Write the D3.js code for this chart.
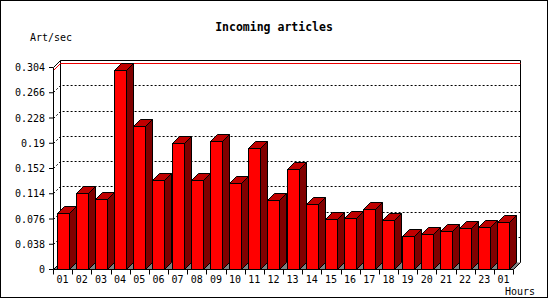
<!DOCTYPE html>
<html><head><meta charset="utf-8">
<script src="https://cdn.jsdelivr.net/npm/d3@7"></script>
<style>
html,body{margin:0;padding:0;background:#fff;}
svg{display:block;}
text{font-family:"DejaVu Sans Mono",monospace;font-size:10px;fill:#000;}
</style></head>
<body>
<svg id="c" width="550" height="300"></svg>
<script>
const hours = ["01","02","03","04","05","06","07","08","09","10","11","12","13","14","15","16","17","18","19","20","21","22","23","01"];
const articles = [0.0846,0.1147,0.1056,0.2998,0.2145,0.1332,0.1889,0.1332,0.1929,0.1287,0.1818,0.1041,0.1508,0.0981,0.0755,0.0771,0.0906,0.0740,0.0500,0.0530,0.0575,0.0620,0.0635,0.0710];
const yTicks = [0,0.038,0.076,0.114,0.152,0.19,0.228,0.266,0.304];
const yLabels = ["0","0.038","0.076","0.114","0.152","0.19","0.228","0.266","0.304"];
const title = "Incoming articles";
const yTitle = "Art/sec";
const xTitle = "Hours";

const svg = d3.select("#c");
const D = 7; // 3D depth
const x = d3.scaleBand().domain(d3.range(hours.length)).range([53,513]);
const y = d3.scaleLinear().domain([0,0.304]).range([269,67]);
const bw = x.bandwidth();
const barW = 12;
const py = v => Math.round(y(v))+0.5;
const y0 = py(0);
const xl = 53.5, xr = 513.5;

// frame
svg.append("rect").attr("x",0.5).attr("y",0.5).attr("width",547).attr("height",297)
  .attr("fill","none").attr("stroke","#000");

// floor
svg.append("polygon").attr("points",[[xl,y0],[xl+D,y0-D],[xr+D,y0-D],[xr,y0]].map(p=>p.join(",")).join(" "))
  .attr("fill","#808080").attr("stroke","none");

// back wall lines
const g = svg.append("g").attr("fill","none").attr("stroke","#000").attr("stroke-width",1);
const yb = v => py(v)-D;
g.append("path").attr("d",`M${xl+D},${y0-D}V${yb(0.304)}H${xr+D}V${y0-D}`);
g.append("path").attr("d",`M${xl},${py(0.304)}L${xl+D},${yb(0.304)}`);
g.append("path").attr("d",`M${xl},${y0}L${xl+D},${y0-D}`);
g.append("path").attr("d",`M${xr},${y0}L${xr+D},${y0-D}`);

// gridlines (dotted)
yTicks.slice(1,-1).forEach(v=>{
  g.append("path").attr("d",`M${xl},${py(v)}L${xl+D},${yb(v)}H${xr+D}`)
   .attr("stroke-dasharray","2,2");
});

// max line (red)
const mx = d3.max(articles);
svg.append("path").attr("d",`M${xl},${py(mx)}L${xl+D},${yb(mx)}H${xr+D}`)
  .attr("fill","none").attr("stroke","#ee0000");

// bars
const bars = svg.append("g").attr("stroke","#000").attr("stroke-width",1).attr("stroke-linejoin","miter");
articles.forEach((v,i)=>{
  const x0 = Math.round(x(i)+(bw-barW)/2)+0.5;
  const x1 = x0+barW;
  const yt = py(v);
  bars.append("polygon").attr("points",[[x1,yt],[x1+D,yt-D],[x1+D,y0-D],[x1,y0]].map(p=>p.join(",")).join(" "))
    .attr("fill","#800000");
  bars.append("polygon").attr("points",[[x0,yt],[x0+D,yt-D],[x1+D,yt-D],[x1,yt]].map(p=>p.join(",")).join(" "))
    .attr("fill","#c00000");
  bars.append("rect").attr("x",x0).attr("y",yt).attr("width",barW).attr("height",y0-yt)
    .attr("fill","#ff0000");
});

// y axis
const ya = svg.append("g").attr("transform","translate(53,0)")
  .call(d3.axisLeft(y).tickValues(yTicks).tickFormat((d,i)=>yLabels[i]).tickSize(4).tickSizeOuter(0).tickPadding(4));
ya.selectAll("text").attr("font-family",null).attr("font-size",null).attr("dy","0.35em");
ya.selectAll("line,path").attr("stroke","#000");

// x axis
const xa = svg.append("g").attr("transform","translate(0,269)")
  .call(d3.axisBottom(x).tickFormat(i=>hours[i]).tickSize(0).tickSizeOuter(0).tickPadding(7));
xa.select(".domain").attr("stroke","#000");
xa.selectAll("text").attr("font-family",null).attr("font-size",null);
xa.selectAll(".tick line").remove();
const bounds = d3.range(hours.length+1).map(i=> i<hours.length ? x(i) : x(hours.length-1)+bw);
svg.append("g").selectAll("line").data(bounds).join("line")
  .attr("x1",d=>Math.round(d)+0.5).attr("x2",d=>Math.round(d)+0.5)
  .attr("y1",y0).attr("y2",y0+5).attr("stroke","#000");

// titles
svg.append("text").attr("x",274).attr("y",31).attr("text-anchor","middle")
  .style("font-weight","bold").style("font-size","11.5px").text(title);
svg.append("text").attr("x",30).attr("y",41).text(yTitle);
svg.append("text").attr("x",505).attr("y",295).text(xTitle);
</script>
</body></html>
